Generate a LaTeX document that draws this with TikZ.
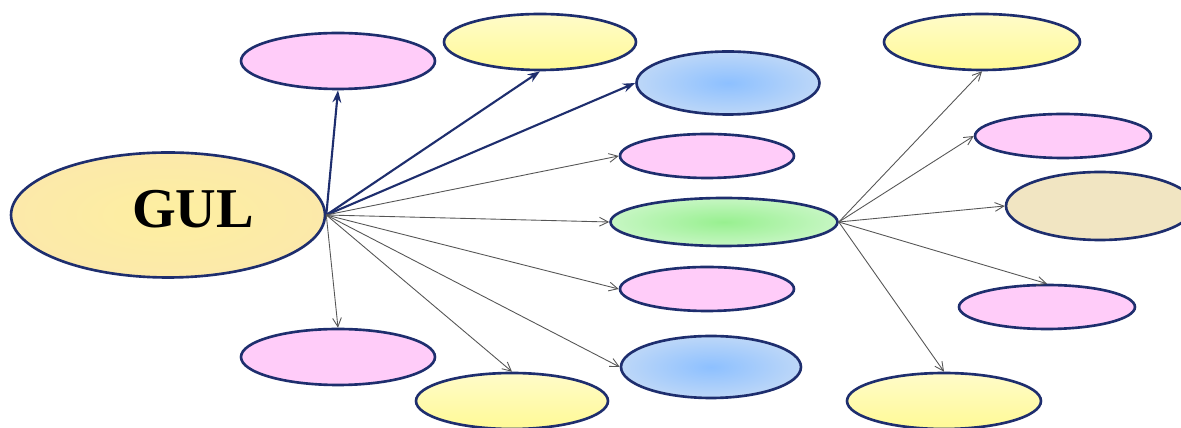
\documentclass[tikz,border=0pt]{standalone}
\usepackage{fontspec}
\setmainfont{Liberation Serif}
\usetikzlibrary{shapes.geometric,arrows.meta}
\definecolor{edge}{HTML}{1E2E6E}
\definecolor{pinkf}{HTML}{FFCCF9}
\definecolor{yellowf}{HTML}{FFF9A6}
\definecolor{bluef}{HTML}{ACCDF6}
\definecolor{bluec}{HTML}{8DC0FF}
\definecolor{greenf}{HTML}{B8F4B4}
\definecolor{greenc}{HTML}{98F090}
\definecolor{tanf}{HTML}{F1E5C2}
\definecolor{gulf}{HTML}{FCE9AA}
\definecolor{gulc}{HTML}{FDEFA0}
\definecolor{thinarrow}{HTML}{555555}
\tikzset{
  oval/.style={ellipse, draw=edge, line width=1.5pt, inner sep=0pt},
  pinkov/.style={oval, fill=pinkf},
  yellowov/.style={oval, top color=yellowf!60!white, bottom color=yellowf!90!yellow},
  blueov/.style={oval, inner color=bluec, outer color=bluef!80!white},
  greenov/.style={oval, inner color=greenc, outer color=greenf!80!white},
  tanov/.style={oval, fill=tanf},
  gulov/.style={oval, inner color=gulc, outer color=gulf},
  thick arrow/.style={draw=edge, line width=1.2pt, -{Stealth[length=7pt,width=5pt]}},
  thin arrow/.style={draw=thinarrow, line width=0.5pt, -{Straight Barb[length=5pt,width=5pt]}},
}
\begin{document}
\begin{tikzpicture}[x=0.02cm,y=-0.02cm]
\useasboundingbox (0,0) rectangle (1181,428);
\fill[white] (0,0) rectangle (1181,428);
% nodes
\node[gulov, minimum width=6.28cm, minimum height=2.5cm] (gul) at (168,215) {};
\node[font=\bfseries\fontsize{32}{36}\selectfont] (gullabel) at (193,209) {GUL};
\node[pinkov, minimum width=3.88cm, minimum height=1.12cm] (ptl) at (338,61) {};
\node[yellowov, minimum width=3.84cm, minimum height=1.12cm] (yt) at (540,42) {};
\node[blueov, minimum width=3.66cm, minimum height=1.26cm] (bt) at (728,83) {};
\node[pinkov, minimum width=3.48cm, minimum height=0.88cm] (pm1) at (707,156) {};
\node[greenov, minimum width=4.54cm, minimum height=0.96cm] (gr) at (724,222) {};
\node[pinkov, minimum width=3.48cm, minimum height=0.88cm] (pm2) at (707,289) {};
\node[blueov, minimum width=3.6cm, minimum height=1.24cm] (bb) at (711,367) {};
\node[pinkov, minimum width=3.88cm, minimum height=1.12cm] (pbl) at (338,357) {};
\node[yellowov, minimum width=3.84cm, minimum height=1.12cm] (yb) at (512,401) {};
\node[yellowov, minimum width=3.92cm, minimum height=1.12cm] (ryt) at (982,42) {};
\node[pinkov, minimum width=3.52cm, minimum height=0.88cm] (rp1) at (1063,136) {};
\node[tanov, minimum width=3.76cm, minimum height=1.36cm] (tan) at (1100,206) {};
\node[pinkov, minimum width=3.52cm, minimum height=0.88cm] (rp2) at (1047,307) {};
\node[yellowov, minimum width=3.88cm, minimum height=1.12cm] (ryb) at (944,401) {};
% connectors from GUL
\draw[thick arrow] (gul.east) -- (ptl.south);
\draw[thick arrow] (gul.east) -- (yt.south);
\draw[thick arrow] (gul.east) -- (bt.west);
\draw[thin arrow] (gul.east) -- (pm1.west);
\draw[thin arrow] (gul.east) -- (gr.west);
\draw[thin arrow] (gul.east) -- (pm2.west);
\draw[thin arrow] (gul.east) -- (bb.west);
\draw[thin arrow] (gul.east) -- (yb.north);
\draw[thin arrow] (gul.east) -- (pbl.north);
% connectors from green
\draw[thin arrow] (gr.east) -- (ryt.south);
\draw[thin arrow] (gr.east) -- (rp1.west);
\draw[thin arrow] (gr.east) -- (tan.west);
\draw[thin arrow] (gr.east) -- (rp2.north);
\draw[thin arrow] (gr.east) -- (ryb.north);
\end{tikzpicture}
\end{document}
